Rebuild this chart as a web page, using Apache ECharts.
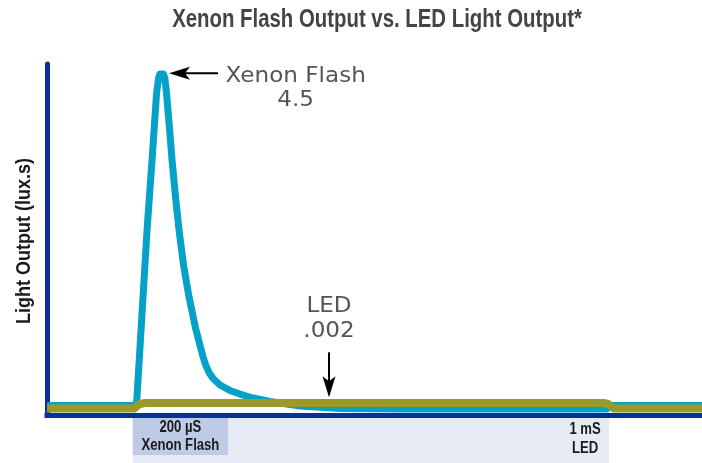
<!DOCTYPE html>
<html><head><meta charset="utf-8">
<script src="https://cdn.jsdelivr.net/npm/echarts@6/dist/echarts.min.js"></script>
<style>html,body{margin:0;padding:0;background:#fff}#c{width:702px;height:463px}</style>
</head><body><div id="c"></div>
<script>
// ---- text ----
const titleText = 'Xenon Flash Output vs. LED Light Output*';
const yAxisName = 'Light Output (lux.s)';
const bandLabels = [['200 µS', 'Xenon Flash'], ['1 mS', 'LED']];
const xenonNote = ['Xenon Flash', '4.5'];
const ledNote = ['LED', '.002'];

// ---- data (time in µs from trigger, output in chart units, peak = 4.5) ----
const xenonTime = [-180, -1.5, 8, 17.4, 30, 40.5, 50, 54.2, 56.8, 60.5, 64.2, 67.4, 70.9, 76.6, 82.5, 89.4, 97.2, 106.6, 118.2, 131.8, 147.6, 153.9, 160.2, 168.6, 183.2, 204.2, 225.2, 252.5, 288.2, 351.2, 435.1, 561, 995, 1002, 1195];
const xenonOutput = [0.131, 0.131, 0.151, 1.123, 2.437, 3.357, 4.237, 4.434, 4.49, 4.5, 4.49, 4.434, 4.237, 3.817, 3.357, 2.897, 2.437, 1.977, 1.557, 1.150, 0.769, 0.650, 0.565, 0.486, 0.401, 0.328, 0.282, 0.230, 0.184, 0.125, 0.092, 0.085, 0.085, 0.131, 0.131];
const ledTime = [-180, 3, 9, 15, 26, 989, 998, 1004, 1010, 1195];
const ledOutput = [0.092, 0.092, 0.125, 0.151, 0.164, 0.164, 0.151, 0.125, 0.092, 0.092];

// band extents (µs)
const bandStart = [0, 0];
const bandEnd = [200, 1000];

// annotation anchors (time, output)
const xenonArrow = [[179, 4.5], [76, 4.5]];
const ledArrow = [[412, 0.83], [412, 0.24]];
const xenonNotePos = [[342, 4.46], [342, 4.14]];
const ledNotePos = [[412, 1.43], [412, 1.11]];

const xMin = -180, xMax = 1195, yMax = 4.62;

const pair = (a, b) => a.map((v, i) => [v, b[i]]);
const chart = echarts.init(document.getElementById('c'), null, {renderer: 'canvas'});
const axisBlue = '#0A2F9E';
const sansBold = "bold {s}px 'Liberation Sans', Arial, sans-serif";
const fnt = s => sansBold.replace('{s}', s);

chart.setOption({
  animation: false,
  grid: [
    {left: 47, right: 0, top: 64, bottom: 47.5},
    {left: 47, right: 0, top: 418, bottom: 0}
  ],
  xAxis: [
    {type: 'value', gridIndex: 0, min: xMin, max: xMax,
     axisLine: {show: true, onZero: false, lineStyle: {color: axisBlue, width: 5, cap: 'square'}},
     axisTick: {show: false}, axisLabel: {show: false}, splitLine: {show: false}},
    {type: 'value', gridIndex: 1, min: xMin, max: xMax, show: false}
  ],
  yAxis: [
    {type: 'value', gridIndex: 0, min: 0, max: yMax,
     axisLine: {show: true, onZero: false, lineStyle: {color: axisBlue, width: 5}},
     axisTick: {show: false}, axisLabel: {show: false}, splitLine: {show: false}},
    {type: 'value', gridIndex: 1, min: 0, max: 1, show: false}
  ],
  series: [
    {type: 'line', xAxisIndex: 1, yAxisIndex: 1, data: [], silent: true,
     markArea: {silent: true, label: {show: false}, data: [
       [{xAxis: bandStart[1], yAxis: 0, itemStyle: {color: '#E6EAF5', opacity: 1}},
        {xAxis: bandEnd[1], yAxis: 1}],
       [{xAxis: bandStart[0], yAxis: 0.178, itemStyle: {color: '#BFCBE6', opacity: 1}},
        {xAxis: bandEnd[0], yAxis: 1}]
     ]}},
    {name: 'Xenon Flash', type: 'line', data: pair(xenonTime, xenonOutput), showSymbol: false,
     lineStyle: {color: '#06A1C8', width: 7, join: 'round', cap: 'butt'}, z: 3},
    {name: 'LED', type: 'line', data: pair(ledTime, ledOutput), showSymbol: false,
     lineStyle: {color: '#9A9A2A', width: 8, join: 'round', cap: 'butt'}, z: 4}
  ]
});

function px(p) { return chart.convertToPixel({gridIndex: 0}, p); }
function arrow(from, to) {
  const a = px(from), b = px(to);
  const dx = b[0] - a[0], dy = b[1] - a[1];
  const len = Math.hypot(dx, dy);
  const ux = dx / len, uy = dy / len, nx = -uy, ny = ux;
  const L = 21, hw = 6.5, notch = 5;
  const back = [b[0] - ux * L, b[1] - uy * L];
  const mid = [b[0] - ux * (L - notch), b[1] - uy * (L - notch)];
  return [
    {type: 'line', z: 100, shape: {x1: a[0], y1: a[1], x2: mid[0], y2: mid[1]}, style: {stroke: '#000', lineWidth: 2}},
    {type: 'polygon', z: 100, shape: {points: [b, [back[0] + nx * hw, back[1] + ny * hw], mid, [back[0] - nx * hw, back[1] - ny * hw]]},
     style: {fill: '#000'}}
  ];
}
function note(pos, text) {
  const p = px(pos);
  return {type: 'text', z: 100, x: p[0], y: p[1], scaleX: 1.1,
    style: {text: text, fill: '#555', font: "21px 'DejaVu Sans', sans-serif", textAlign: 'center', textVerticalAlign: 'middle'}};
}
function boldText(x, y, text, size, sx, color, rot) {
  return {type: 'text', z: 100, x: x, y: y, scaleX: sx, rotation: rot || 0,
    style: {text: text, fill: color, font: fnt(size), textAlign: 'center', textVerticalAlign: 'middle'}};
}
const g = [];
g.push(...arrow(xenonArrow[0], xenonArrow[1]));
g.push(...arrow(ledArrow[0], ledArrow[1]));
g.push(note(xenonNotePos[0], xenonNote[0]), note(xenonNotePos[1], xenonNote[1]));
g.push(note(ledNotePos[0], ledNote[0]), note(ledNotePos[1], ledNote[1]));
g.push(boldText(377, 20, titleText, 25, 0.815, '#444'));
g.push(boldText(24, 241, yAxisName, 20, 0.9, '#1a1a1a', Math.PI / 2));
// band labels
const darkX = (px([bandStart[0], 0])[0] + px([bandEnd[0], 0])[0]) / 2;
const lightX = px([bandEnd[1], 0])[0] - 24;
g.push(boldText(darkX, 427.5, bandLabels[0][0], 16, 0.82, '#1a1a1a'));
g.push(boldText(darkX, 446, bandLabels[0][1], 16, 0.82, '#1a1a1a'));
g.push(boldText(lightX, 430, bandLabels[1][0], 16, 0.82, '#1a1a1a'));
g.push(boldText(lightX, 448.5, bandLabels[1][1], 16, 0.82, '#1a1a1a'));
chart.setOption({graphic: g});
</script></body></html>
